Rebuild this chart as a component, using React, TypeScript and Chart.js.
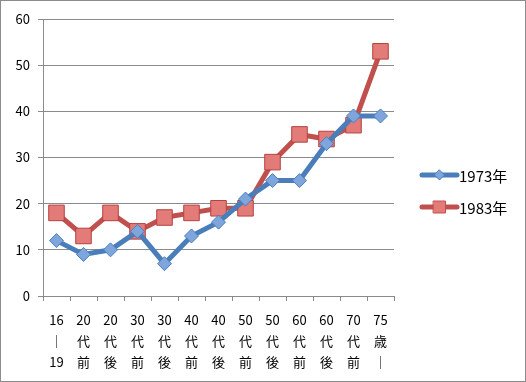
import React, { useEffect, useRef } from "react";
import { Chart, registerables } from "chart.js";
Chart.register(...registerables);

const categories: string[][] = [
  ["16", "｜", "19"],
  ["20", "代", "前"],
  ["20", "代", "後"],
  ["30", "代", "前"],
  ["30", "代", "後"],
  ["40", "代", "前"],
  ["40", "代", "後"],
  ["50", "代", "前"],
  ["50", "代", "後"],
  ["60", "代", "前"],
  ["60", "代", "後"],
  ["70", "代", "前"],
  ["75", "歳", "｜"],
];
const series1973 = [12, 9, 10, 14, 7, 13, 16, 21, 25, 25, 33, 39, 39];
const series1983 = [18, 13, 18, 14, 17, 18, 19, 19, 29, 35, 34, 37, 53];
const seriesNames = ["1973年", "1983年"];
const yMin = 0;
const yMax = 60;
const yStep = 10;

const FONT = "'Noto Sans CJK JP', 'Noto Sans', sans-serif";
const BLUE = "#4a7ebb";
const BLUE_FILL = "#7ea6dc";
const RED = "#c0504d";
const RED_FILL = "#e37c79";
const GRID = "#8a8a8a";

const legendPlugin = {
  id: "customLegend",
  afterDraw(chart: any) {
    const ctx = chart.ctx;
    const items = [
      { name: seriesNames[0], color: BLUE, fill: BLUE_FILL, shape: "diamond", y: 174 },
      { name: seriesNames[1], color: RED, fill: RED_FILL, shape: "square", y: 206 },
    ];
    ctx.save();
    for (const it of items) {
      const x0 = 421, x1 = 456, cx = (x0 + x1) / 2;
      ctx.strokeStyle = it.color;
      ctx.lineWidth = 5;
      ctx.lineCap = "round";
      ctx.beginPath();
      ctx.moveTo(x0, it.y);
      ctx.lineTo(x1, it.y);
      ctx.stroke();
      ctx.fillStyle = it.fill;
      ctx.strokeStyle = it.color;
      ctx.lineWidth = 1;
      ctx.beginPath();
      if (it.shape === "diamond") {
        const r = 5;
        ctx.moveTo(cx, it.y - r);
        ctx.lineTo(cx + r, it.y);
        ctx.lineTo(cx, it.y + r);
        ctx.lineTo(cx - r, it.y);
        ctx.closePath();
      } else {
        const h = 6;
        ctx.rect(cx - h, it.y - h, 2 * h, 2 * h);
      }
      ctx.fill();
      ctx.stroke();
      ctx.fillStyle = "#000";
      ctx.font = `15px ${FONT}`;
      ctx.textBaseline = "middle";
      ctx.textAlign = "left";
      ctx.fillText(it.name, 458, it.y + 1);
    }
    ctx.restore();
  },
};

export default function App() {
  const ref = useRef<HTMLCanvasElement>(null);
  useEffect(() => {
    document.body.style.margin = "0";
    const chart = new Chart(ref.current!, {
      type: "line",
      data: {
        labels: categories,
        datasets: [
          {
            label: seriesNames[0],
            data: series1973,
            borderColor: BLUE,
            borderWidth: 5,
            backgroundColor: BLUE_FILL,
            pointStyle: "rectRot",
            pointRadius: 7,
            pointBorderColor: BLUE,
            pointBackgroundColor: BLUE_FILL,
            pointBorderWidth: 1,
            tension: 0,
          },
          {
            label: seriesNames[1],
            data: series1983,
            borderColor: RED,
            borderWidth: 5,
            backgroundColor: RED_FILL,
            pointStyle: "rect",
            pointRadius: 11,
            pointBorderColor: "#b5423f",
            pointBackgroundColor: RED_FILL,
            pointBorderWidth: 1,
            tension: 0,
          },
        ],
      },
      options: {
        responsive: false,
        animation: false,
        layout: { padding: { top: 18, right: 131, left: 0, bottom: 0 } },
        plugins: { legend: { display: false }, tooltip: { enabled: false } },
        scales: {
          x: {
            offset: true,
            grid: {
              display: true,
              drawOnChartArea: false,
              drawTicks: true,
              tickLength: 5,
              offset: true,
              color: GRID,
            },
            border: { display: true, color: GRID },
            ticks: {
              color: "#000",
              font: { family: FONT, size: 13, lineHeight: 1.6 },
              padding: 9,
              maxRotation: 0,
              autoSkip: false,
            },
            afterFit: (s: any) => {
              s.height = 85;
            },
          },
          y: {
            min: yMin,
            max: yMax,
            ticks: {
              stepSize: yStep,
              color: "#000",
              font: { family: FONT, size: 13 },
              padding: 8,
            },
            grid: { color: GRID, tickLength: 5 },
            border: { display: true, color: GRID },
            afterFit: (s: any) => {
              s.width = 42;
            },
          },
        },
      },
      plugins: [legendPlugin],
    });
    return () => chart.destroy();
  }, []);
  return (
    <div
      style={{
        position: "absolute",
        left: 0,
        top: 0,
        width: 526,
        height: 382,
        border: "1px solid #8c8c8c",
        boxSizing: "border-box",
        background: "#fff",
      }}
    >
      <canvas ref={ref} width={524} height={380} style={{ display: "block" }} />
    </div>
  );
}
